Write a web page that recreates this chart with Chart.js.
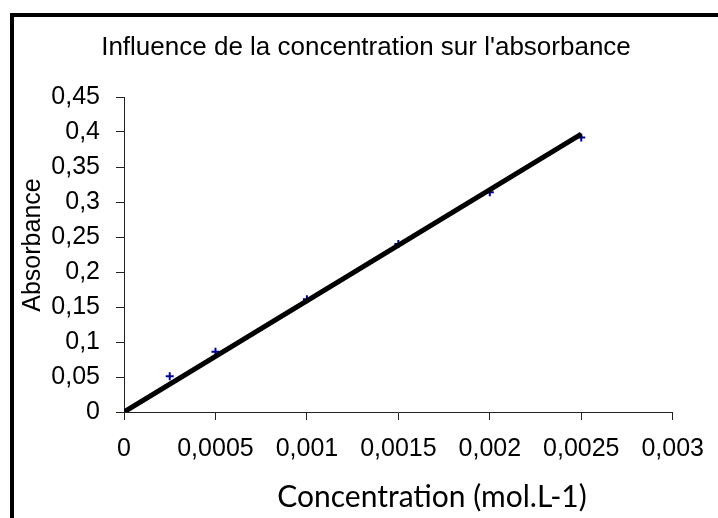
<!DOCTYPE html>
<html>
<head>
<meta charset="utf-8">
<title>Influence de la concentration sur l'absorbance</title>
<script src="https://cdn.jsdelivr.net/npm/chart.js@4.4.1/dist/chart.umd.min.js"></script>
<style>
    body { margin: 0; background: #fff; }
    #wrap { position: relative; width: 718px; height: 518px; overflow: hidden; }
    #frame { position: absolute; left: 10px; top: 13px; width: 760px; height: 560px; border-left: 4px solid #000; border-top: 4px solid #000; box-sizing: border-box; }
    #myChart { position: absolute; left: 0; top: 0; }
</style>
</head>
<body>
<div id="wrap">
    <div id="frame"></div>
    <canvas id="myChart" width="718" height="518"></canvas>
</div>
<script>
// measured points (concentration in mol/L, absorbance)
var concentrations = [0, 0.00025, 0.0005, 0.001, 0.0015, 0.002, 0.0025];
var absorbances = [0, 0.051, 0.086, 0.161, 0.240, 0.314, 0.392];

// linear trendline (Excel) at both ends
var trendX = [0, 0.0025];
var trendY = [0, 0.397];

// tick labels, French decimal comma
var xTickLabels = ['0', '0,0005', '0,001', '0,0015', '0,002', '0,0025', '0,003'];
var yTickLabels = ['0', '0,05', '0,1', '0,15', '0,2', '0,25', '0,3', '0,35', '0,4', '0,45'];

var chartTitle = "Influence de la concentration sur l'absorbance";
var xTitle = 'Concentration (mol.L-1)';
var yTitle = 'Absorbance';

function toPoints(xs, ys) {
    var pts = [];
    for (var i = 0; i < xs.length; i++) {
        pts.push({ x: xs[i], y: ys[i] });
    }
    return pts;
}

var axisColor = '#222';
var arial = '"Liberation Sans", Arial, sans-serif';

// the titles are not centred on the plot area in the original, so draw them here
var titlesPlugin = {
    id: 'titles',
    afterDraw: function (chart) {
        var c = chart.ctx;
        c.save();
        c.fillStyle = '#000';
        c.textAlign = 'center';
        c.textBaseline = 'middle';
        c.font = '26px ' + arial;
        c.fillText(chartTitle, 366, 48);
        c.font = '30px Lato, sans-serif';
        c.fillText(xTitle, 432, 497);
        c.translate(33, 245);
        c.rotate(-Math.PI / 2);
        c.font = '25px ' + arial;
        c.fillText(yTitle, 0, 0);
        c.restore();
    }
};

function createChart() {
    var ctx = document.getElementById('myChart').getContext('2d');
    new Chart(ctx, {
        type: 'scatter',
        data: {
            datasets: [
                {
                    // trendline first so it is drawn over the markers
                    data: toPoints(trendX, trendY),
                    showLine: true,
                    borderColor: '#000',
                    borderWidth: 5,
                    pointRadius: 0,
                    borderCapStyle: 'butt'
                },
                {
                    data: toPoints(concentrations, absorbances),
                    showLine: false,
                    pointStyle: 'cross',
                    pointRadius: 4,
                    borderWidth: 2,
                    borderColor: '#00009c',
                    backgroundColor: '#00009c'
                }
            ]
        },
        plugins: [titlesPlugin],
        options: {
            responsive: false,
            animation: false,
            layout: { padding: { left: 0, right: 42, top: 97, bottom: 0 } },
            plugins: {
                legend: { display: false },
                tooltip: { enabled: false },
                title: { display: false }
            },
            scales: {
                x: {
                    type: 'linear',
                    min: 0,
                    max: 0.003,
                    afterFit: function (scale) { scale.height = 106; },
                    border: { display: true, color: axisColor, width: 1 },
                    grid: { drawOnChartArea: false, drawTicks: true, tickLength: 8, color: axisColor },
                    ticks: {
                        stepSize: 0.0005,
                        color: '#000',
                        padding: 14,
                        maxRotation: 0,
                        font: { family: arial, size: 25 },
                        callback: function (v) { return xTickLabels[Math.round(v / 0.0005)]; }
                    }
                },
                y: {
                    type: 'linear',
                    min: 0,
                    max: 0.45,
                    afterFit: function (scale) { scale.width = 124; },
                    border: { display: true, color: axisColor, width: 1 },
                    grid: { drawOnChartArea: false, drawTicks: true, tickLength: 8, color: axisColor },
                    ticks: {
                        stepSize: 0.05,
                        color: '#000',
                        padding: 16,
                        font: { family: arial, size: 25 },
                        callback: function (v) { return yTickLabels[Math.round(v / 0.05)]; }
                    }
                }
            }
        }
    });
}
createChart();
</script>
</body>
</html>
